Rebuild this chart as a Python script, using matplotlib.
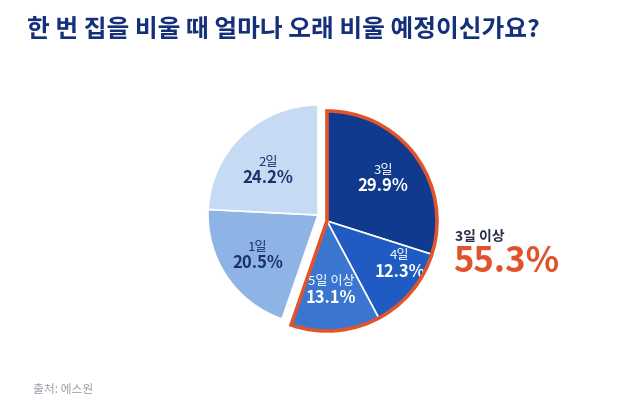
import matplotlib
matplotlib.use("Agg")
import matplotlib.pyplot as plt
from matplotlib.patches import Wedge

plt.rcParams['font.family'] = ['Noto Sans CJK KR', 'DejaVu Sans']

# 데이터 (시계 방향, 12시부터)
labels = ['3일', '4일', '5일 이상', '1일', '2일']
values = [29.9, 12.3, 13.1, 20.5, 24.2]
colors = ['#0f3a8e', '#1f5bc2', '#3a76cf', '#8eb4e6', '#c7daf3']
text_colors = ['white', 'white', 'white', '#1c2f6e', '#1c2f6e']
n_group = 3  # 3일 이상 묶음
group_label = '3일 이상'
group_value = '55.3%'
title = '한 번 집을 비울 때 얼마나 오래 비울 예정이신가요?'
source = '출처: 에스원'

W, H = 640, 419
fig = plt.figure(figsize=(6.4, 4.19), dpi=100)
ax = fig.add_axes([0, 0, 1, 1])

def py(y):
    return H - y

center = (318, py(215))
shift = (9, -6)
radius = 110

wedges, _ = ax.pie(values, colors=colors, startangle=90, counterclock=False,
                   center=center, radius=radius, frame=True,
                   wedgeprops=dict(edgecolor='white', linewidth=1.2))
ax.set_xlim(0, W)
ax.set_ylim(0, H)
ax.axis('off')

# 3일 이상 조각은 오른쪽 아래로 분리
gc = (center[0] + shift[0], center[1] + shift[1])
for w in wedges[:n_group]:
    w.set_center(gc)

# 묶음 테두리
total = sum(values[:n_group])
outline = Wedge(gc, radius, 90 - total * 3.6, 90, facecolor='none',
                edgecolor='#e0542c', linewidth=2.6, zorder=5)
ax.add_patch(outline)

# 조각 라벨 위치 (픽셀)
label_pos = [(383, 178), (400, 264), (331, 290), (258, 255), (268, 170)]
for lab, v, (x, y), tc in zip(labels, values, label_pos, text_colors):
    ax.text(x, py(y - 8), lab, ha='center', va='center', fontsize=9.5, color=tc)
    ax.text(x, py(y + 8), f'{v}%', ha='center', va='center', fontsize=12,
            fontweight='bold', color=tc)

ax.text(455, py(237), group_label, ha='left', va='center', fontsize=10,
        fontweight='bold', color='#2a2f45')
ax.text(453, py(262), group_value, ha='left', va='center', fontsize=25,
        fontweight='bold', color='#e0542c')

ax.text(27, py(30), title, ha='left', va='center', fontsize=17.8,
        fontweight='bold', color='#14307a')
ax.text(33, py(390), source, ha='left', va='center', fontsize=8.5, color='#9a9ea8')

fig.savefig('out.png', dpi=100)
